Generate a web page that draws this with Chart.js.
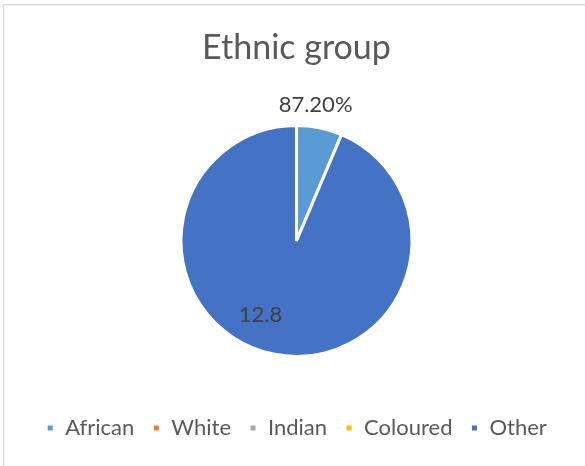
<!DOCTYPE html>
<html>
<head>
<meta charset="utf-8">
<script src="https://cdn.jsdelivr.net/npm/chart.js@4"></script>
<style>
  html, body { margin: 0; padding: 0; background: #ffffff; }
  #wrap { width: 585px; height: 466px; position: relative; }
</style>
</head>
<body>
<div id="wrap"><canvas id="grafico"></canvas></div>
<script>
const categorias = ['African', 'White', 'Indian', 'Coloured', 'Other'];
const valores = [0.872, 0, 0, 0, 12.8];
const rotulos = ['87.20%', '', '', '', '12.8'];
const cores = ['#5b9bd5', '#ed7d31', '#a5a5a5', '#ffc000', '#4472c4'];

// draws the value labels next to each slice
const rotulosPlugin = {
  id: 'rotulos',
  afterDatasetsDraw(chart, args, opts) {
    const c = chart.ctx;
    const meta = chart.getDatasetMeta(0);
    c.save();
    c.font = '22px Lato';
    c.fillStyle = '#404040';
    c.textAlign = 'center';
    c.textBaseline = 'middle';
    meta.data.forEach((arc, i) => {
      if (!rotulos[i]) return;
      const p = arc.getProps(['x', 'y', 'startAngle', 'endAngle', 'outerRadius'], true);
      const ang = (p.startAngle + p.endAngle) / 2 + opts.desvio[i] * Math.PI / 180;
      const r = p.outerRadius * opts.raio[i];
      c.fillText(rotulos[i], p.x + Math.cos(ang) * r, p.y + Math.sin(ang) * r);
    });
    c.restore();
  }
};

// thin grey frame, top and left only
const moldura = {
  id: 'moldura',
  beforeDraw(chart) {
    const c = chart.ctx;
    c.save();
    c.strokeStyle = '#d9d9d9';
    c.lineWidth = 1.5;
    c.beginPath();
    c.moveTo(3.5, chart.height);
    c.lineTo(3.5, 4.8);
    c.lineTo(chart.width, 4.8);
    c.stroke();
    c.restore();
  }
};

new Chart(document.getElementById('grafico'), {
  type: 'pie',
  data: {
    labels: categorias,
    datasets: [
      {
        data: valores,
        backgroundColor: cores,
        borderColor: '#ffffff',
        borderWidth: 3,
        radius: 115.5
      }
    ]
  },
  options: {
    responsive: true,
    maintainAspectRatio: false,
    animation: false,
    layout: {
      padding: { left: 8, right: 0, top: 0, bottom: 17 }
    },
    plugins: {
      title: {
        display: true,
        text: 'Ethnic group',
        color: '#595959',
        font: { family: 'Lato', size: 34, weight: 'normal' },
        padding: { top: 28, bottom: 14 }
      },
      legend: {
        position: 'bottom',
        labels: {
          color: '#595959',
          font: { family: 'Lato', size: 22 },
          boxWidth: 8,
          boxHeight: 8,
          padding: 18
        }
      },
      tooltip: { enabled: false },
      rotulos: {
        raio: [1.19, 0, 0, 0, 0.71],
        desvio: [-3.5, 0, 0, 0, 14.5]
      }
    }
  },
  plugins: [rotulosPlugin, moldura]
});
</script>
</body>
</html>
